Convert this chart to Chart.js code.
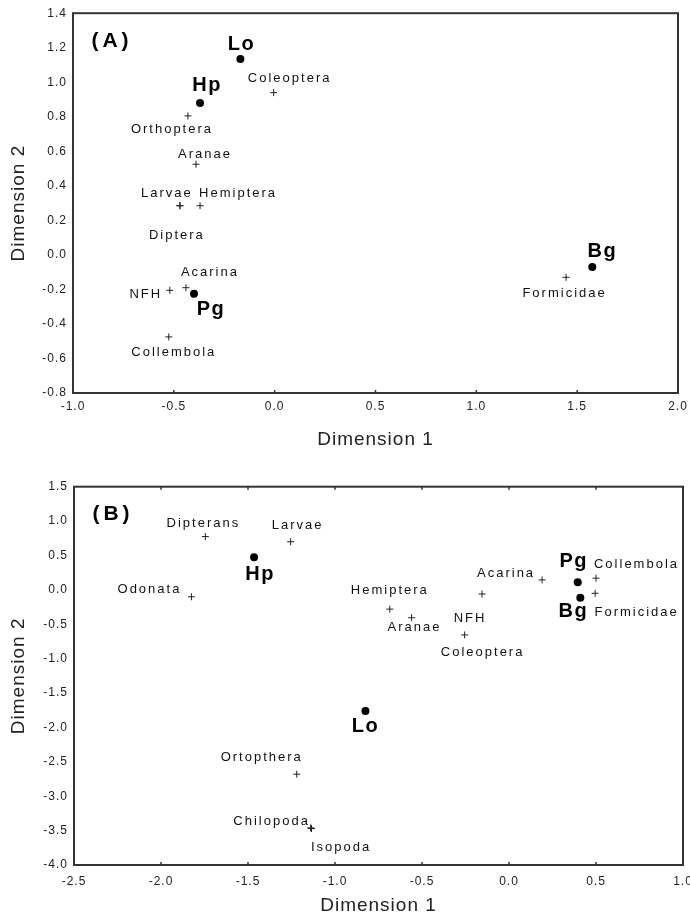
<!DOCTYPE html>
<html><head><meta charset="utf-8">
<script src="https://cdn.jsdelivr.net/npm/chart.js@4"></script>
<style>
html,body{margin:0;padding:0;background:#fff;}
canvas{display:block;}
</style></head><body>
<canvas id="cA" width="690" height="460"></canvas>
<canvas id="cB" width="690" height="461"></canvas>
<script>
// ---------- DATA : panel (A) ----------
const aSiteNames = ['Lo', 'Hp', 'Pg', 'Bg'];
const aSiteX = [-0.17, -0.37, -0.40, 1.575];
const aSiteY = [1.135, 0.88, -0.225, -0.07];
const aTaxaNames = ['Coleoptera', 'Orthoptera', 'Aranae', 'Larvae', 'Hemiptera', 'Diptera', 'Acarina', 'NFH', 'Collembola', 'Formicidae'];
const aTaxaX = [-0.005, -0.43, -0.39, -0.47, -0.37, -0.47, -0.44, -0.52, -0.525, 1.445];
const aTaxaY = [0.94, 0.805, 0.525, 0.285, 0.285, 0.285, -0.19, -0.205, -0.475, -0.13];
const aXTicks = [-1.0, -0.5, 0.0, 0.5, 1.0, 1.5, 2.0];
const aYTicks = [-0.8, -0.6, -0.4, -0.2, 0.0, 0.2, 0.4, 0.6, 0.8, 1.0, 1.2, 1.4];

// ---------- DATA : panel (B) ----------
const bSiteNames = ['Hp', 'Pg', 'Bg', 'Lo'];
const bSiteX = [-1.465, 0.395, 0.41, -0.825];
const bSiteY = [0.475, 0.11, -0.115, -1.76];
const bTaxaNames = ['Dipterans', 'Larvae', 'Odonata', 'Acarina', 'NFH', 'Hemiptera', 'Aranae', 'Coleoptera', 'Collembola', 'Formicidae', 'Ortopthera', 'Chilopoda', 'Isopoda'];
const bTaxaX = [-1.745, -1.255, -1.825, 0.19, -0.155, -0.685, -0.56, -0.255, 0.50, 0.495, -1.22, -1.14, -1.135];
const bTaxaY = [0.775, 0.70, -0.10, 0.145, -0.06, -0.28, -0.405, -0.655, 0.17, -0.05, -2.68, -3.46, -3.47];
const bXTicks = [-2.5, -2.0, -1.5, -1.0, -0.5, 0.0, 0.5, 1.0];
const bYTicks = [-4.0, -3.5, -3.0, -2.5, -2.0, -1.5, -1.0, -0.5, 0.0, 0.5, 1.0, 1.5];

// ---------- LABEL PLACEMENT (pixel offsets of label centre from its marker) ----------
const aSiteOff = [[1, -14], [7, -17.5], [17, 16], [10, -15]];
const aTaxaOff = [[16, -14.5], [-16, 14], [9, -10], [-13, -12.5], [38, -12.5], [-3, 30], [24, -15.5], [-24, 4], [5, 15.5], [-1.5, 16.5]];
const bSiteOff = [[6, 17], [-4, -21], [-7, 14], [0, 16]];
const bTaxaOff = [[-2, -13], [7, -16], [-42, -7], [-36, -6], [-12, 24], [0, -19], [3, 10], [18, 17.5], [40.5, -14], [41.5, 19], [-35, -17], [-39, -6], [29.5, 19]];

const toPts = (xs, ys) => xs.map((x, i) => ({x: x, y: ys[i]}));
const FONT = '"Liberation Sans", Arial, sans-serif';

function makePanel(id, o) {
  const H = o.height;
  const panelPlugin = {
    id: 'panel' + id,
    beforeDraw(chart) { chart.ctx.letterSpacing = '1px'; },
    afterDraw(chart) {
      const ctx = chart.ctx;
      const a = chart.chartArea;
      ctx.save();
      ctx.letterSpacing = '0px';
      // frame
      ctx.strokeStyle = '#333';
      ctx.lineWidth = 2;
      ctx.strokeRect(a.left, a.top, a.right - a.left, a.bottom - a.top);
      // inward tick marks on the horizontal axis
      const xs = chart.scales.x;
      ctx.lineWidth = 1.5;
      ctx.beginPath();
      xs.ticks.forEach(t => {
        const px = xs.getPixelForValue(t.value);
        ctx.moveTo(px, a.bottom); ctx.lineTo(px, a.bottom - 3);
        if (o.topTicks) { ctx.moveTo(px, a.top); ctx.lineTo(px, a.top + 3); }
      });
      ctx.stroke();
      // point labels
      ctx.textAlign = 'center';
      ctx.textBaseline = 'middle';
      chart.data.datasets.forEach((ds, di) => {
        const meta = chart.getDatasetMeta(di);
        const offs = ds._offsets, names = ds._names;
        if (ds._site) {
          ctx.font = 'bold 20px ' + FONT; ctx.letterSpacing = '1.5px'; ctx.fillStyle = '#000';
        } else {
          ctx.font = '13px ' + FONT; ctx.letterSpacing = '2px'; ctx.fillStyle = '#111';
        }
        meta.data.forEach((el, i) => {
          ctx.fillText(names[i], el.x + offs[i][0], el.y + offs[i][1]);
        });
      });
      // panel letter
      ctx.font = 'bold 21px ' + FONT; ctx.letterSpacing = '4px'; ctx.fillStyle = '#000';
      ctx.fillText(o.letter, a.left + 39, a.top + 28);
      ctx.restore();
      chart.ctx.letterSpacing = '0px';
    }
  };
  return new Chart(document.getElementById(id), {
    type: 'scatter',
    data: {
      datasets: [
        {data: toPts(o.taxaX, o.taxaY), _names: o.taxaNames, _offsets: o.taxaOff, _site: false,
         pointStyle: 'cross', pointRadius: 3.5, pointHoverRadius: 3.5, borderColor: '#222', borderWidth: 1, backgroundColor: '#222'},
        {data: toPts(o.siteX, o.siteY), _names: o.siteNames, _offsets: o.siteOff, _site: true,
         pointStyle: 'circle', pointRadius: 4, pointHoverRadius: 4, borderWidth: 0, backgroundColor: '#000'}
      ]
    },
    options: {
      responsive: false, animation: false, devicePixelRatio: 1,
      events: [],
      layout: {padding: {left: 0, top: o.area.top, right: 690 - o.area.right, bottom: 0}},
      plugins: {legend: {display: false}, tooltip: {enabled: false}},
      scales: {
        x: {
          type: 'linear', min: o.xTicks[0], max: o.xTicks[o.xTicks.length - 1],
          grid: {display: false, drawTicks: false}, border: {display: false},
          afterBuildTicks: s => { s.ticks = o.xTicks.map(v => ({value: v})); },
          afterFit: s => { s.height = H - o.area.bottom; s.paddingLeft = 0; s.paddingRight = 0; },
          ticks: {padding: o.xTickPad, color: '#222', font: {family: FONT, size: 12}, maxRotation: 0, autoSkip: false,
                  callback: v => Number(v).toFixed(1)},
          title: {display: true, text: 'Dimension 1', color: '#222', font: {family: FONT, size: 19},
                  padding: {top: 0, bottom: o.xTitlePad}}
        },
        y: {
          type: 'linear', min: o.yTicks[0], max: o.yTicks[o.yTicks.length - 1],
          grid: {display: false, drawTicks: false}, border: {display: false},
          afterBuildTicks: s => { s.ticks = o.yTicks.map(v => ({value: v})); },
          afterFit: s => { s.width = o.area.left; },
          ticks: {padding: 6, color: '#222', font: {family: FONT, size: 12}, autoSkip: false,
                  callback: v => Number(v).toFixed(1)},
          title: {display: true, text: 'Dimension 2', color: '#222', font: {family: FONT, size: 19},
                  padding: {top: 7.5, bottom: 0}}
        }
      }
    },
    plugins: [panelPlugin]
  });
}

makePanel('cA', {
  height: 460, area: {left: 73, top: 13, right: 678, bottom: 393}, letter: '(A)', topTicks: false,
  xTickPad: 6, xTitlePad: 9,
  siteNames: aSiteNames, siteX: aSiteX, siteY: aSiteY, siteOff: aSiteOff,
  taxaNames: aTaxaNames, taxaX: aTaxaX, taxaY: aTaxaY, taxaOff: aTaxaOff,
  xTicks: aXTicks, yTicks: aYTicks
});
makePanel('cB', {
  height: 461, area: {left: 74, top: 26.7, right: 683, bottom: 405}, letter: '(B)', topTicks: true,
  xTickPad: 9, xTitlePad: 4,
  siteNames: bSiteNames, siteX: bSiteX, siteY: bSiteY, siteOff: bSiteOff,
  taxaNames: bTaxaNames, taxaX: bTaxaX, taxaY: bTaxaY, taxaOff: bTaxaOff,
  xTicks: bXTicks, yTicks: bYTicks
});
</script>
</body></html>
